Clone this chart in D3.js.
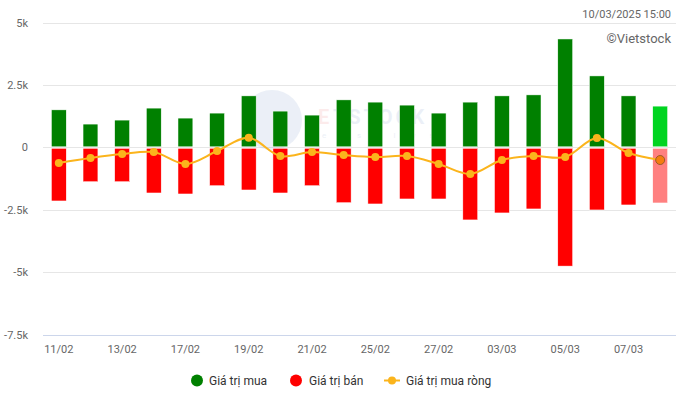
<!DOCTYPE html>
<html>
<head>
<meta charset="utf-8">
<script src="https://cdn.jsdelivr.net/npm/d3@7"></script>
<style>
  body { margin: 0; background: #fff; }
  svg { display: block; font-family: Roboto, "Noto Sans", sans-serif; }
</style>
</head>
<body>
<div id="chart"></div>
<script>
const dates = ["11/02","12/02","13/02","14/02","17/02","18/02","19/02","20/02","21/02","24/02",
               "25/02","26/02","27/02","28/02","03/03","04/03","05/03","06/03","07/03","10/03"];
const buyValues  = [1.50, 0.93, 1.09, 1.57, 1.17, 1.37, 2.06, 1.45, 1.29, 1.90,
                    1.81, 1.69, 1.37, 1.81, 2.06, 2.10, 4.34, 2.86, 2.06, 1.65];
const sellValues = [-2.15, -1.38, -1.38, -1.83, -1.87, -1.54, -1.71, -1.83, -1.54, -2.22,
                    -2.27, -2.07, -2.07, -2.91, -2.63, -2.47, -4.76, -2.51, -2.31, -2.23];
const netValues  = [-0.63, -0.43, -0.27, -0.19, -0.67, -0.15, 0.38, -0.35, -0.19, -0.31,
                    -0.39, -0.35, -0.67, -1.07, -0.51, -0.35, -0.39, 0.37, -0.23, -0.51];
const yTicks = [5, 2.5, 0, -2.5, -5, -7.5];
const yTickLabels = ["5k", "2.5k", "0", "-2.5k", "-5k", "-7.5k"];

const W = 679, H = 395;
const margin = {left: 43, right: 3, top: 22.5, bottom: 60.5};

const svg = d3.select("#chart").append("svg")
    .attr("width", W).attr("height", H);

const x = d3.scaleBand()
    .domain(dates)
    .range([margin.left, W - margin.right])
    .paddingInner(0.53).paddingOuter(0.265);

const y = d3.scaleLinear()
    .domain([-7.5, 5])
    .range([H - margin.bottom, margin.top]);

// grid
svg.append("g").selectAll("line")
    .data(yTicks)
    .join("line")
    .attr("x1", margin.left).attr("x2", W - margin.right)
    .attr("y1", d => Math.round(y(d)) + 0.5).attr("y2", d => Math.round(y(d)) + 0.5)
    .attr("stroke", d => d === -7.5 ? "#ccd6eb" : "#e6e6e6")
    .attr("stroke-width", 1);

// y labels
svg.append("g").selectAll("text")
    .data(yTicks)
    .join("text")
    .attr("x", 28)
    .attr("y", d => y(d) + 4)
    .attr("text-anchor", "end")
    .attr("fill", "#666")
    .style("font-size", "11px")
    .text((d, i) => yTickLabels[i]);

// watermark (faint logo)
const wm = svg.append("g").attr("opacity", 0.09);
wm.append("circle").attr("cx", 272).attr("cy", 120).attr("r", 30).attr("fill", "#2a5caa");
wm.append("text").attr("x", 318).attr("y", 124).attr("fill", "#e03030")
    .style("font-size", "20px").style("font-weight", "bold").text("E");
wm.append("text").attr("x", 333).attr("y", 124).attr("fill", "#2a5caa")
    .style("font-size", "20px").style("font-weight", "bold").style("letter-spacing", "3px")
    .text("TSTOCK");
wm.append("text").attr("x", 322).attr("y", 138).attr("fill", "#2a5caa")
    .style("font-size", "8px").style("letter-spacing", "14px").text("efshlws");

// bars
const last = dates.length - 1;
svg.append("g").selectAll("rect")
    .data(dates)
    .join("rect")
    .attr("x", d => x(d))
    .attr("width", x.bandwidth())
    .attr("y", (d, i) => y(buyValues[i]))
    .attr("height", (d, i) => y(0) - y(buyValues[i]) - 0.5)
    .attr("fill", (d, i) => i === last ? "#00d420" : "#008000")
    .attr("stroke", "#fff").attr("stroke-width", 0.5);

svg.append("g").selectAll("rect")
    .data(dates)
    .join("rect")
    .attr("x", d => x(d))
    .attr("width", x.bandwidth())
    .attr("y", y(0) + 1)
    .attr("height", (d, i) => y(sellValues[i]) - y(0) - 1)
    .attr("fill", (d, i) => i === last ? "#ff8080" : "#ff0000")
    .attr("stroke", "#fff").attr("stroke-width", 0.5);

// net line
const cx = d => x(d) + x.bandwidth() / 2;
const line = d3.line()
    .x(d => cx(d))
    .y((d, i) => y(netValues[i]))
    .curve(d3.curveCatmullRom.alpha(0.5));

svg.append("path")
    .datum(dates)
    .attr("d", line)
    .attr("fill", "none")
    .attr("stroke", "#fbb41c")
    .attr("stroke-width", 2);

svg.append("g").selectAll("circle")
    .data(dates)
    .join("circle")
    .attr("cx", d => cx(d))
    .attr("cy", (d, i) => y(netValues[i]))
    .attr("r", (d, i) => i === last ? 4.5 : 4)
    .attr("fill", (d, i) => i === last ? "#f57c0f" : "#fbb41c")
    .attr("stroke", (d, i) => i === last ? "#9b5a2a" : "none")
    .attr("stroke-width", 1);

// x labels
svg.append("g").selectAll("text")
    .data(dates.filter((d, i) => i % 2 === 0))
    .join("text")
    .attr("x", d => cx(d))
    .attr("y", 353)
    .attr("text-anchor", "middle")
    .attr("fill", "#666")
    .style("font-size", "11px")
    .text(d => d);

// titles
svg.append("text")
    .attr("x", 671).attr("y", 17.5)
    .attr("text-anchor", "end").attr("fill", "#666")
    .style("font-size", "11px")
    .text("10/03/2025 15:00");
svg.append("text")
    .attr("x", 671).attr("y", 43)
    .attr("text-anchor", "end").attr("fill", "#666")
    .style("font-size", "13px")
    .text("©Vietstock");

// legend
const legend = svg.append("g");
legend.append("circle").attr("cx", 197).attr("cy", 380.5).attr("r", 6).attr("fill", "#008000");
legend.append("text").attr("x", 209).attr("y", 385).attr("fill", "#333")
    .style("font-size", "12px").text("Giá trị mua");
legend.append("circle").attr("cx", 296).attr("cy", 380.5).attr("r", 6).attr("fill", "#ff0000");
legend.append("text").attr("x", 309).attr("y", 385).attr("fill", "#333")
    .style("font-size", "12px").text("Giá trị bán");
legend.append("line").attr("x1", 384).attr("x2", 400).attr("y1", 380.5).attr("y2", 380.5)
    .attr("stroke", "#fbb41c").attr("stroke-width", 2);
legend.append("circle").attr("cx", 392).attr("cy", 380.5).attr("r", 4).attr("fill", "#fbb41c");
legend.append("text").attr("x", 406).attr("y", 385).attr("fill", "#333")
    .style("font-size", "12px").text("Giá trị mua ròng");
</script>
</body>
</html>
